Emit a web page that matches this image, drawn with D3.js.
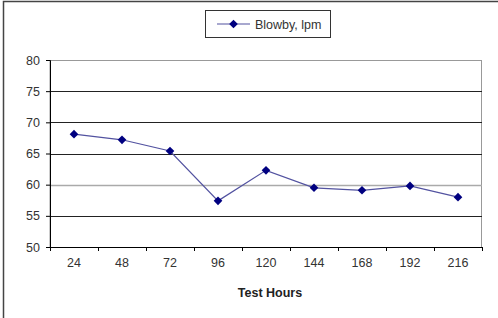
<!DOCTYPE html>
<html>
<head>
<meta charset="utf-8">
<script src="https://cdn.jsdelivr.net/npm/d3@7"></script>
<style>
  body { margin: 0; background: #fff; }
  svg text { font-family: "Liberation Sans", Arial, sans-serif; }
</style>
</head>
<body>
<div id="chart"></div>
<script>
var hours = ["24", "48", "72", "96", "120", "144", "168", "192", "216"];
var blowby = [68.1, 67.2, 65.4, 57.4, 62.3, 59.5, 59.1, 59.8, 58.0];
var yTicks = [50, 55, 60, 65, 70, 75, 80];
var seriesName = "Blowby, lpm";

var svgWidth = 498;
var svgHeight = 318;
var margin = { top: 60, right: 16, bottom: 71, left: 50 };
var width = svgWidth - margin.left - margin.right;
var height = svgHeight - margin.top - margin.bottom;

var svg = d3.select("#chart")
  .append("svg")
  .attr("width", svgWidth)
  .attr("height", svgHeight);

// outer frame
svg.append("rect")
  .attr("x", 3.5).attr("y", 1.5)
  .attr("width", svgWidth + 10).attr("height", svgHeight + 10)
  .attr("fill", "none")
  .attr("stroke", "#444")
  .attr("stroke-width", 1.5);

var chartGroup = svg.append("g")
  .attr("transform", `translate(${margin.left}, ${margin.top})`);

var xScale = d3.scaleBand()
  .domain(hours)
  .range([0, width]);

var yScale = d3.scaleLinear()
  .domain([50, 80])
  .range([height, 0]);

// plot area border
chartGroup.append("rect")
  .attr("x", 0).attr("y", 0.5)
  .attr("width", width - 0.5).attr("height", height)
  .attr("fill", "none")
  .attr("stroke", "#999");

// gridlines
chartGroup.selectAll(".grid")
  .data(yTicks.filter(d => d > 50 && d < 80))
  .enter()
  .append("line")
  .attr("x1", 0)
  .attr("x2", width)
  .attr("y1", d => Math.round(yScale(d)) + 0.5)
  .attr("y2", d => Math.round(yScale(d)) + 0.5)
  .attr("stroke", d => d === 60 ? "#aaa" : "#222")
  .attr("stroke-width", d => d === 60 ? 1.5 : 1);

// y axis
var leftAxis = d3.axisLeft(yScale).tickValues(yTicks).tickSize(4).tickPadding(6);
var yAxis = chartGroup.append("g").call(leftAxis);
yAxis.select(".domain").attr("stroke", "#000");
yAxis.selectAll("text").attr("font-size", 12.5).attr("fill", "#333");

// x axis with ticks between categories
var bottomAxis = d3.axisBottom(xScale).tickSize(0).tickPadding(11);
var xAxis = chartGroup.append("g")
  .attr("transform", `translate(0, ${height})`)
  .call(bottomAxis);
xAxis.select(".domain").attr("stroke", "#000");
xAxis.selectAll("text").attr("font-size", 12.5).attr("fill", "#333");

var bounds = hours.map(d => xScale(d)).concat([width]);
xAxis.selectAll(".sep")
  .data(bounds)
  .enter()
  .append("line")
  .attr("x1", d => d + 0.5).attr("x2", d => d + 0.5)
  .attr("y1", 0).attr("y2", 4)
  .attr("stroke", "#000");

// line
var line = d3.line()
  .x((d, i) => xScale(hours[i]) + xScale.bandwidth() / 2)
  .y(d => yScale(d));

chartGroup.append("path")
  .datum(blowby)
  .attr("d", line)
  .attr("fill", "none")
  .attr("stroke", "#5252a0")
  .attr("stroke-width", 1.2);

var diamond = d3.symbol().type(d3.symbolDiamond2).size(48);
chartGroup.selectAll(".pt")
  .data(blowby)
  .enter()
  .append("path")
  .attr("d", diamond)
  .attr("transform", (d, i) => `translate(${xScale(hours[i]) + xScale.bandwidth() / 2}, ${yScale(d)})`)
  .attr("fill", "#000080");

// axis title
chartGroup.append("text")
  .attr("x", width / 2 + 4)
  .attr("y", height + 50)
  .attr("text-anchor", "middle")
  .attr("font-size", 12.5)
  .attr("font-weight", "bold")
  .attr("fill", "#222")
  .text("Test Hours");

// legend
var legend = svg.append("g").attr("transform", "translate(205, 10)");
legend.append("rect")
  .attr("x", 0.5).attr("y", 0.5)
  .attr("width", 125).attr("height", 27)
  .attr("fill", "#fff")
  .attr("stroke", "#333");
legend.append("line")
  .attr("x1", 12).attr("x2", 45)
  .attr("y1", 14).attr("y2", 14)
  .attr("stroke", "#5252a0")
  .attr("stroke-width", 1.2);
legend.append("path")
  .attr("d", diamond)
  .attr("transform", "translate(28.5, 14)")
  .attr("fill", "#000080");
legend.append("text")
  .attr("x", 50)
  .attr("y", 18.5)
  .attr("font-size", 12.5)
  .attr("fill", "#333")
  .text(seriesName);
</script>
</body>
</html>
